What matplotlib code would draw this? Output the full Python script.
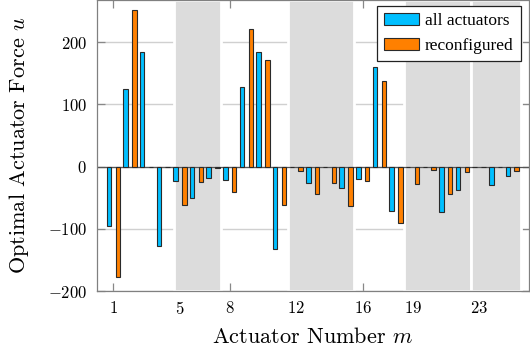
import matplotlib
matplotlib.use("Agg")
import matplotlib.pyplot as plt
import numpy as np
from matplotlib.ticker import FuncFormatter

# ---- data ----
actuators = list(range(1, 26))
all_actuators = [-95, 125, 185, -128, -23, -50, -18, -22, 128, 184, -133, 0, -27, 0,
                 -34, -20, 160, -71, 0, 0, -73, -37, 0, -29, -15]
reconfigured = [-178, 252, 0, 0, -62, -24, -2, -41, 221, 171, -61, -7, -44, -27,
                -63, -23, 138, -91, -28, -5, -44, -9, 0, 0, -7]
shaded_regions = [(4.65, 7.5), (11.5, 15.5), (18.5, 22.5), (22.5, 25.5)]
xticks = [1, 5, 8, 12, 16, 19, 23]
yticks = [-200, -100, 0, 100, 200]
series_labels = ["all actuators", "reconfigured"]

plt.rcParams["font.family"] = "serif"
plt.rcParams["font.serif"] = ["cmr10"]
plt.rcParams["mathtext.fontset"] = "cm"
plt.rcParams["axes.unicode_minus"] = False
plt.rcParams["axes.formatter.use_mathtext"] = True

fig = plt.figure(figsize=(5.3, 3.53), dpi=100)
ax = fig.add_axes([0.1825, 0.1756, 0.998 - 0.1825, 1.0 - 0.1756])

x = np.array(actuators, dtype=float)
w = 0.27
off = 0.266
ax.bar(x - off, all_actuators, width=w, color="#00BFFF", edgecolor="#2a2a2a",
       linewidth=0.8, zorder=3, label=series_labels[0])
ax.bar(x + off, reconfigured, width=w, color="#FF8000", edgecolor="#2a2a2a",
       linewidth=0.8, zorder=3, label=series_labels[1])

for a, b in shaded_regions:
    ax.axvspan(a, b, facecolor="#DCDCDC", edgecolor="white", linewidth=2.0, zorder=1)

ax.axhline(0, color="#555555", linewidth=0.9, zorder=2)

ax.set_xlim(0, 26)
ax.set_ylim(-200, 268)
ax.set_xticks(xticks)
ax.set_yticks(yticks)
fmt = FuncFormatter(lambda v, p: r"$%d$" % v)
ax.xaxis.set_major_formatter(fmt)
ax.yaxis.set_major_formatter(fmt)

ax.set_axisbelow(True)
ax.yaxis.grid(True, color="#D0D0D0", linewidth=1.0)
ax.tick_params(axis="both", direction="in", length=6, width=0.9, color="#888888",
               labelsize=12, top=True, right=True)
ax.tick_params(axis="x", pad=6.5)
ax.tick_params(axis="y", pad=7)
for s in ax.spines.values():
    s.set_color("#808080")
    s.set_linewidth(0.9)

ax.set_xlabel(r"Actuator Number $m$", fontsize=16, labelpad=7)
ax.set_ylabel(r"Optimal Actuator Force $u$", fontsize=16, labelpad=12)

leg = ax.legend(loc="upper right", bbox_to_anchor=(0.981, 0.979), borderaxespad=0,
                prop={"family": "Liberation Serif", "size": 12.5}, fancybox=False,
                edgecolor="#222222", framealpha=1, handlelength=2.0, handleheight=0.7,
                handletextpad=0.35, labelspacing=0.5, borderpad=0.4)
leg.get_frame().set_linewidth(0.9)
leg.set_zorder(5)

fig.savefig("out.png", dpi=100)
